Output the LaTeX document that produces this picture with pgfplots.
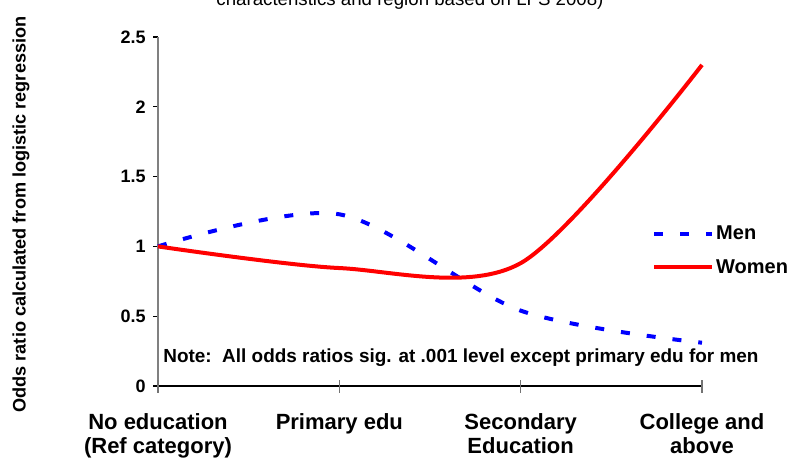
\documentclass[border=0pt]{standalone}
\usepackage{fontspec}
\setmainfont{Liberation Sans}
\usepackage{pgfplots}
\pgfplotsset{compat=1.18}
\begin{document}
\begin{tikzpicture}
\useasboundingbox (0,0) rectangle (594pt,346.5pt);
\node[anchor=base, inner sep=0pt, font=\fontsize{14}{16}\selectfont] at (307.5pt,342pt) {characteristics and region based on LFS 2008)};
\begin{axis}[
  at={(118.5pt,57pt)}, anchor=south west,
  width=408pt, height=261.75pt, scale only axis,
  clip=false,
  xmin=0, xmax=3, ymin=0, ymax=2.5,
  axis x line=bottom, axis y line=left,
  x axis line style={-, black, line width=0.8pt},
  y axis line style={-, black!50, line width=1.2pt},
  xtick={0,1,2,3},
  xticklabels={{No education\\(Ref category)},{Primary edu},{Secondary\\Education},{College and\\above}},
  ytick={0,0.5,1,1.5,2,2.5},
  tick align=outside,
  major tick length=3.75pt,
  x tick style={draw=none},
  y tick style={black, line width=0.8pt},
  /pgf/number format/assume math mode=true,
  yticklabel style={font=\bfseries\fontsize{13.5}{15}\selectfont, xshift=-2pt},
  xticklabel style={font=\bfseries\fontsize{16.5}{18}\selectfont, align=center, yshift=-13.5pt},
  ylabel={Odds ratio calculated from logistic regression},
  every axis y label/.style={at={(rel axis cs:-0.2518,0.4914)}, rotate=90, anchor=center, font=\bfseries\fontsize{13.6}{15}\selectfont},
  legend style={at={(rel axis cs:0.908,0.388)}, anchor=west, draw=none, fill=none, inner sep=0pt,
    font=\bfseries\fontsize{15}{17}\selectfont, row sep=10.5pt,
    nodes={inner sep=1.5pt}},
  legend cell align=left,
  legend image code/.code={\draw[#1] (0pt,0pt) -- (43.5pt,0pt);},
]
\addplot[blue, line width=3pt, dash pattern=on 6.75pt off 12.75pt, smooth] coordinates {(0,1) (1,1.23) (2,0.54) (3,0.31)};
\addlegendentry{Men}
\addplot[red, line width=3pt, smooth] coordinates {(0,1) (1,0.845) (2,0.88) (3,2.30)};
\addlegendentry{Women}
\node[anchor=base west, inner sep=0pt, font=\bfseries\fontsize{14.2}{16}\selectfont] at (axis cs:0.028,0.17) {Note:\ \ All odds ratios sig. at .001 level except primary edu for men};
\end{axis}
\begin{axis}[
  at={(118.5pt,57pt)}, anchor=south west,
  width=408pt, height=261.75pt, scale only axis,
  xmin=0, xmax=3, ymin=0, ymax=2.5,
  axis x line=bottom, hide y axis,
  x axis line style={draw=none},
  xtick={0,1,2,3}, xticklabels={},
  tick align=center, major tick length=9.75pt,
  x tick style={black!55, line width=1.2pt},
]
\end{axis}
\end{tikzpicture}
\end{document}
